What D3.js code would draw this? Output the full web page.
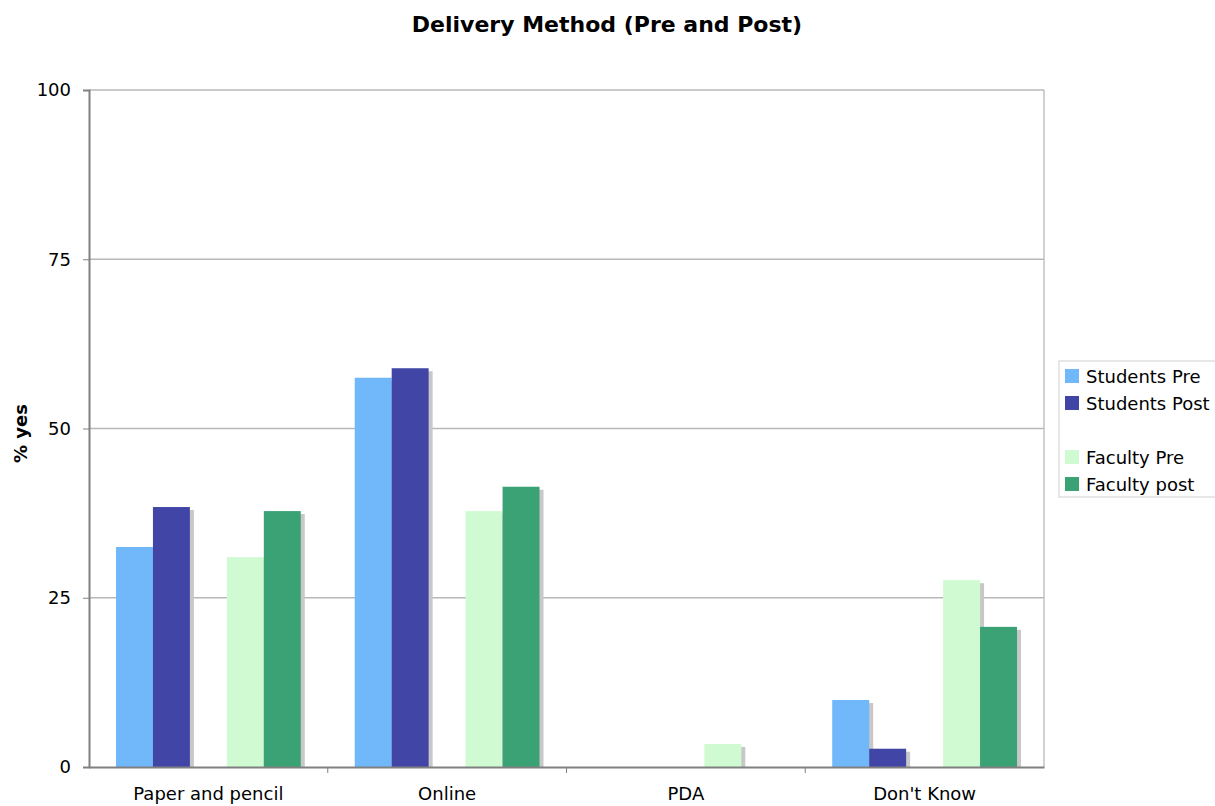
<!DOCTYPE html>
<html>
<head>
<meta charset="utf-8">
<script src="https://cdn.jsdelivr.net/npm/d3@7"></script>
<style>
  body { margin: 0; background: #fff; }
  text { font-family: "DejaVu Sans", Verdana, sans-serif; fill: #000; }
</style>
</head>
<body>
<div id="chart"></div>
<script>
// categories and series (blank series keeps the gap between the two groups)
let categories = ['Paper and pencil', 'Online', 'PDA', "Don't Know"]
let seriesNames = ['Students Pre', 'Students Post', '', 'Faculty Pre', 'Faculty post']
let seriesColors = ['#70b8fa', '#4146a6', 'none', '#d0fad2', '#3ba276']

let studentsPre = [32.5, 57.5, 0, 9.9]
let studentsPost = [38.4, 58.9, 0, 2.7]
let blank = [0, 0, 0, 0]
let facultyPre = [31.0, 37.8, 3.4, 27.6]
let facultyPost = [37.8, 41.4, 0, 20.7]

let yTicks = [0, 25, 50, 75, 100]

let seriesValues = [studentsPre, studentsPost, blank, facultyPre, facultyPost]

let margin = { top: 90, left: 89, right: 171, bottom: 39 }
let width = 1215 - margin.left - margin.right
let height = 806 - margin.top - margin.bottom

let svg = d3
  .select('#chart')
  .append('svg')
  .attr('width', 1215)
  .attr('height', 806)

let g = svg.append('g')
  .attr('transform', 'translate(' + margin.left + ',' + margin.top + ')')

let x0 = d3.scaleBand().domain(categories).range([0, width]).paddingInner(0).paddingOuter(0)
let x1 = d3.scaleBand().domain(d3.range(seriesNames.length))
  .range([0, x0.bandwidth()]).paddingOuter(0.73).paddingInner(0)
let y = d3.scaleLinear().domain([0, 100]).range([height, 0])

// gridlines
g.selectAll('.grid')
  .data(yTicks.filter(d => d > 0))
  .enter()
  .append('line')
  .attr('x1', 0)
  .attr('x2', width)
  .attr('y1', d => y(d))
  .attr('y2', d => y(d))
  .attr('stroke', '#b8b8b8')
  .attr('stroke-width', 1.3)

// right border of plot area
g.append('line')
  .attr('x1', width).attr('x2', width)
  .attr('y1', 0).attr('y2', height)
  .attr('stroke', '#b8b8b8')
  .attr('stroke-width', 1.3)

// bars with drop shadows
let bars = []
seriesValues.forEach((vals, si) => {
  if (!seriesNames[si]) return
  vals.forEach((v, ci) => {
    if (v > 0) bars.push({ s: si, c: categories[ci], v: v })
  })
})

g.selectAll('.shadow')
  .data(bars)
  .enter()
  .append('rect')
  .attr('x', d => x0(d.c) + x1(d.s) + 4)
  .attr('y', d => y(d.v) + 3)
  .attr('width', x1.bandwidth())
  .attr('height', d => height - y(d.v) - 3)
  .attr('fill', '#c8c8c8')

g.selectAll('.bar')
  .data(bars)
  .enter()
  .append('rect')
  .attr('x', d => x0(d.c) + x1(d.s))
  .attr('y', d => y(d.v))
  .attr('width', x1.bandwidth())
  .attr('height', d => height - y(d.v))
  .attr('fill', d => seriesColors[d.s])

// y axis
let yAxis = g.append('g')
  .call(d3.axisLeft(y).tickValues(yTicks).tickSize(6).tickPadding(12))
yAxis.select('.domain').attr('stroke', '#808080').attr('stroke-width', 2)
yAxis.selectAll('.tick line').attr('stroke', '#808080')
yAxis.selectAll('text').attr('font-size', 18).style('font-family', '"DejaVu Sans", Verdana, sans-serif')

// x axis
let xAxis = g.append('g')
  .attr('transform', 'translate(0,' + height + ')')
  .call(d3.axisBottom(x0).tickSize(0).tickPadding(20))
xAxis.select('.domain').attr('stroke', '#808080').attr('stroke-width', 2)
xAxis.selectAll('text').attr('font-size', 18).style('font-family', '"DejaVu Sans", Verdana, sans-serif')

g.selectAll('.xtick')
  .data(categories.slice(1))
  .enter()
  .append('line')
  .attr('x1', d => x0(d))
  .attr('x2', d => x0(d))
  .attr('y1', height)
  .attr('y2', height + 6)
  .attr('stroke', '#808080')

// title
svg.append('text')
  .attr('x', 607)
  .attr('y', 32)
  .attr('text-anchor', 'middle')
  .attr('font-size', 22)
  .attr('font-weight', 'bold')
  .text('Delivery Method (Pre and Post)')

// y axis label
svg.append('text')
  .attr('transform', 'translate(27,' + (margin.top + y(50) + 5) + ') rotate(-90)')
  .attr('text-anchor', 'middle')
  .attr('font-size', 18)
  .attr('font-weight', 'bold')
  .text('% yes')

// legend
let legend = svg.append('g').attr('transform', 'translate(1059,361)')
legend.append('rect')
  .attr('x', 0).attr('y', 0)
  .attr('width', 160).attr('height', 136)
  .attr('fill', '#fff')
  .attr('stroke', '#cfcfcf')

let items = legend.selectAll('.item')
  .data(seriesNames)
  .enter()
  .append('g')
  .attr('transform', (d, i) => 'translate(6,' + (8 + i * 27) + ')')

items.filter(d => d)
  .append('rect')
  .attr('width', 14).attr('height', 14)
  .attr('fill', (d, i) => seriesColors[seriesNames.indexOf(d)])

items.filter(d => d)
  .append('text')
  .attr('x', 21)
  .attr('y', 14)
  .attr('font-size', 18)
  .text(d => d)
</script>
</body>
</html>
